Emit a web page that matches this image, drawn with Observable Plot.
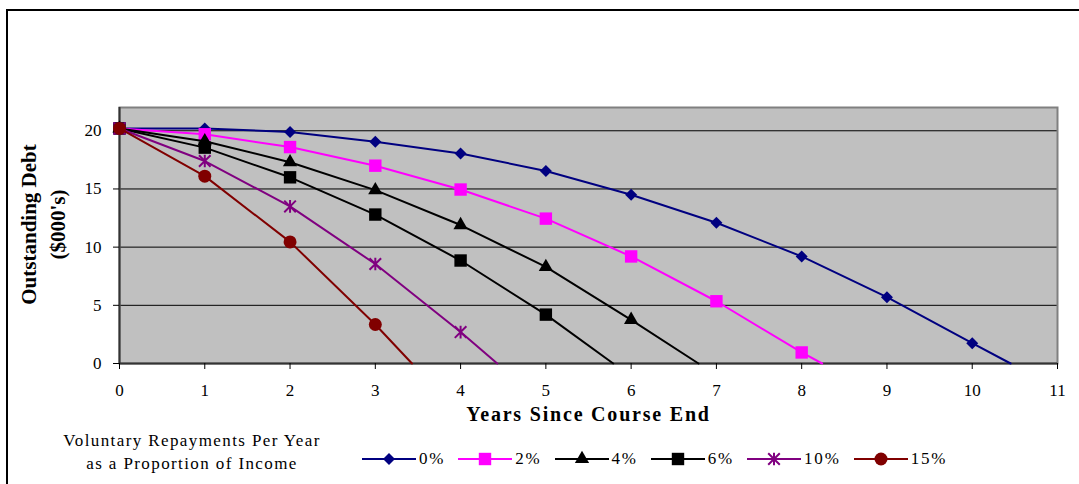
<!DOCTYPE html>
<html>
<head>
<meta charset="utf-8">
<script src="https://cdn.jsdelivr.net/npm/d3@7"></script>
<script src="https://cdn.jsdelivr.net/npm/@observablehq/plot@0.6"></script>
<style>
html,body{margin:0;padding:0;background:#fff;}
#wrap{position:relative;width:1079px;height:484px;overflow:hidden;font-family:"Liberation Serif","Times New Roman",serif;color:#000;}
#border{position:absolute;left:6px;top:9px;width:1100px;height:500px;border-left:2px solid #000;border-top:2px solid #000;}
#chart{position:absolute;left:0;top:0;}
#legend{position:absolute;left:0;top:430px;width:1079px;height:54px;}
.ltitle{position:absolute;left:40px;width:304px;top:-1px;text-align:center;font-size:17px;letter-spacing:1.4px;line-height:23px;}
.litems{position:absolute;left:362px;top:20px;display:flex;align-items:center;}
.litem{display:flex;align-items:center;margin-right:13px;}
.litem span{font-size:17px;letter-spacing:1.8px;margin-left:3px;line-height:18px;}
</style>
</head>
<body>
<div id="wrap">
  <div id="border"></div>
  <div id="chart"></div>
  <div id="legend">
    <div class="ltitle">Voluntary Repayments Per Year<br>as a Proportion of Income</div>
    <div class="litems" id="litems"></div>
  </div>
</div>
<script>
// ---- data ----
const years = [0, 1, 2, 3, 4, 5, 6, 7, 8, 9, 10];
const seriesLabels = ["0%", "2%", "4%", "6%", "10%", "15%"];
const debt0  = [20.2, 20.2, 19.9, 19.05, 18.05, 16.55, 14.5, 12.1, 9.2, 5.7, 1.75];
const debt2  = [20.2, 19.7, 18.6, 17.0, 14.95, 12.45, 9.2, 5.35, 0.95];
const debt4  = [20.2, 19.1, 17.3, 14.9, 11.9, 8.3, 3.75];
const debt6  = [20.2, 18.55, 16.0, 12.8, 8.85, 4.2];
const debt10 = [20.2, 17.4, 13.5, 8.55, 2.7];
const debt15 = [20.2, 16.1, 10.45, 3.35];
// year at which each line reaches zero debt (where it meets the x axis)
const payoffYear = [10.45, 8.24, 6.79, 5.79, 4.43, 3.43];
const xTicks = [0, 1, 2, 3, 4, 5, 6, 7, 8, 9, 10, 11];
const yTicks = [0, 5, 10, 15, 20];
const gridY = [5, 10, 15, 20];
const xDomain = [0, 11];
const yDomain = [0, 22];
const xTitle = "Years Since Course End";
const yTitle = "Outstanding Debt\n($000's)";

// ---- styles ----
const colors = ["#000080", "#FF00FF", "#000000", "#000000", "#800080", "#800000"];
const star = {
  draw(ctx, size) {
    const r = Math.sqrt(size / Math.PI), d = r * 0.92;
    ctx.moveTo(0, -r); ctx.lineTo(0, r);
    ctx.moveTo(-d, -d); ctx.lineTo(d, d);
    ctx.moveTo(-d, d); ctx.lineTo(d, -d);
  }
};
const markerStyles = [
  {symbol: "diamond2", r: 5.4, fill: colors[0], stroke: "none"},
  {symbol: "square", r: 7.0, fill: colors[1], stroke: "none"},
  {symbol: "triangle", r: 5.3, fill: colors[2], stroke: "none"},
  {symbol: "square", r: 7.0, fill: colors[3], stroke: "none"},
  {symbol: star, r: 6.3, fill: "none", stroke: colors[4], strokeWidth: 2},
  {symbol: "circle", r: 6.5, fill: colors[5], stroke: "none"}
];

const allDebt = [debt0, debt2, debt4, debt6, debt10, debt15];
const series = allDebt.map((vals, k) => {
  const points = vals.map((v, i) => ({year: years[i], debt: v, label: seriesLabels[k]}));
  const line = points.concat([{year: payoffYear[k], debt: 0, label: seriesLabels[k]}]);
  return {points, line, k};
});

const marks = [
  Plot.frame({fill: "#C0C0C0"}),
  Plot.ruleY(gridY, {stroke: "#000", strokeWidth: 1}),
  Plot.frame({stroke: "#808080", strokeWidth: 2}),
  Plot.ruleX([xDomain[0]], {stroke: "#333", strokeWidth: 2}),
  Plot.ruleY([yDomain[0]], {stroke: "#333", strokeWidth: 2}),
  Plot.axisX({ticks: xTicks, tickSize: 6, tickPadding: 14, label: null, fontSize: 17, tickFormat: d3.format("d")}),
  Plot.axisY({ticks: yTicks, tickSize: 6, tickPadding: 12, label: null, fontSize: 17, tickFormat: d3.format("d")})
];
series.forEach(s => {
  marks.push(Plot.line(s.line, {x: "year", y: "debt", stroke: colors[s.k], strokeWidth: 2}));
  marks.push(Plot.dot(s.points, {x: "year", y: "debt", ...markerStyles[s.k]}));
});
marks.push(Plot.text([xTitle], {
  text: d => d, frameAnchor: "bottom", lineAnchor: "bottom", dy: 57,
  fontSize: 20, fontWeight: "bold"
}));
marks.push(Plot.text([yTitle], {
  text: d => d, frameAnchor: "left", textAnchor: "middle", lineAnchor: "middle",
  rotate: -90, dx: -78, dy: -11, lineHeight: 1.35,
  fontSize: 21, fontWeight: "bold"
}));

const chart = Plot.plot({
  width: 1079,
  height: 430,
  marginLeft: 119,
  marginRight: 22,
  marginTop: 107,
  marginBottom: 67,
  x: {domain: xDomain},
  y: {domain: yDomain},
  style: {fontFamily: '"Liberation Serif","Times New Roman",serif', fontSize: "17px", color: "#000", background: "transparent"},
  marks
});
document.getElementById("chart").appendChild(chart);
d3.select(chart).selectAll("text")
  .filter(function() { return this.textContent === xTitle; })
  .style("letter-spacing", "1.8px");

// ---- legend ----
const litems = document.getElementById("litems");
seriesLabels.forEach((lab, k) => {
  const item = document.createElement("div");
  item.className = "litem";
  const svg = d3.create("svg").attr("width", 54).attr("height", 18);
  svg.append("line").attr("x1", 0).attr("x2", 54).attr("y1", 9).attr("y2", 9)
    .attr("stroke", colors[k]).attr("stroke-width", 2);
  const ms = markerStyles[k];
  const symType = typeof ms.symbol === "string"
    ? {diamond2: d3.symbolDiamond2, square: d3.symbolSquare, triangle: d3.symbolTriangle, circle: d3.symbolCircle}[ms.symbol]
    : ms.symbol;
  svg.append("path")
    .attr("transform", "translate(27,9)")
    .attr("d", d3.symbol(symType, ms.r * ms.r * Math.PI)())
    .attr("fill", ms.fill).attr("stroke", ms.stroke).attr("stroke-width", ms.strokeWidth || 0);
  item.appendChild(svg.node());
  const span = document.createElement("span");
  span.textContent = lab;
  item.appendChild(span);
  litems.appendChild(item);
});
</script>
</body>
</html>
